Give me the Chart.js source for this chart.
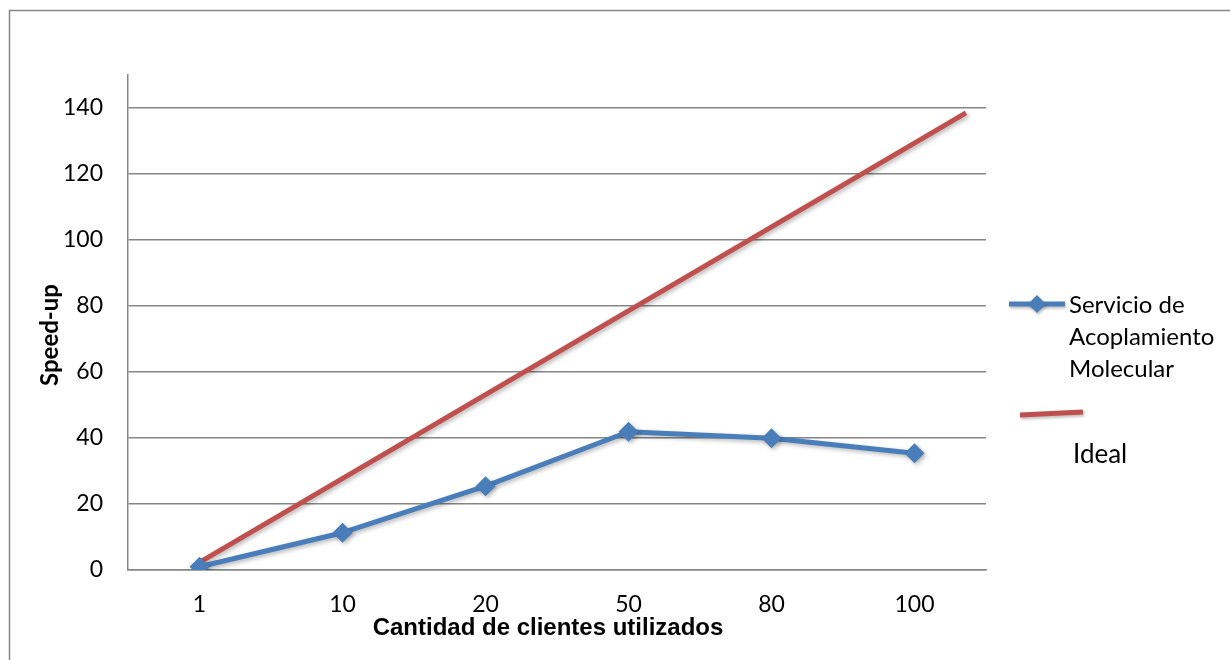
<!DOCTYPE html>
<html><head><meta charset="utf-8">
<script src="https://cdn.jsdelivr.net/npm/chart.js@4.4.0/dist/chart.umd.min.js"></script>
<style>html,body{margin:0;padding:0;background:#fff}canvas{display:block}</style>
</head><body>
<canvas id="c" width="1230" height="660"></canvas>
<script>
// Speed-up measured per number of clients
const clientes = ['1', '10', '20', '50', '80', '100'];
const speedUp = [1.0, 11.3, 25.4, 41.9, 39.9, 35.4];
// Reference "ideal" trend line (position along the client axis, speed-up)
const idealPos = [0, 5.36];
const idealSpeedUp = [2.3, 138.5];
const yTicks = [0, 20, 40, 60, 80, 100, 120, 140];
const serieNombre = ['Servicio de', 'Acoplamiento', 'Molecular'];
const idealNombre = 'Ideal';
const tituloX = 'Cantidad de clientes utilizados';
const tituloY = 'Speed-up';

const AZUL = '#4a7ebb';
const ROJO = '#c0504d';
const GRIS = '#868686';

const sombra = {
  id: 'sombra',
  beforeDatasetDraw(chart) {
    const ctx = chart.ctx;
    ctx.save();
    ctx.shadowColor = 'rgba(0,0,0,0.28)';
    ctx.shadowBlur = 4;
    ctx.shadowOffsetX = 2;
    ctx.shadowOffsetY = 2;
  },
  afterDatasetDraw(chart) { chart.ctx.restore(); }
};

const marco = {
  id: 'marco',
  beforeDraw(chart) {
    const ctx = chart.ctx;
    ctx.save();
    ctx.fillStyle = '#fff';
    ctx.fillRect(0, 0, chart.width, chart.height);
    ctx.strokeStyle = GRIS;
    ctx.lineWidth = 1.5;
    ctx.beginPath();
    ctx.moveTo(9.5, chart.height);
    ctx.lineTo(9.5, 10.5);
    ctx.lineTo(chart.width, 10.5);
    ctx.stroke();
    ctx.restore();
  },
  afterDraw(chart) {
    const ctx = chart.ctx;
    ctx.save();
    // axis titles
    ctx.fillStyle = '#000';
    ctx.font = 'bold 24px "Liberation Sans", Arial, sans-serif';
    ctx.textAlign = 'center';
    ctx.textBaseline = 'alphabetic';
    ctx.fillText(tituloX, 548, 635);
    ctx.save();
    ctx.translate(58, 335);
    ctx.rotate(-Math.PI / 2);
    ctx.font = 'bold 24px Lato, sans-serif';
    ctx.fillText(tituloY, 0, 0);
    ctx.restore();

    // legend: measured series
    ctx.save();
    ctx.shadowColor = 'rgba(0,0,0,0.25)';
    ctx.shadowBlur = 3; ctx.shadowOffsetX = 1; ctx.shadowOffsetY = 2;
    ctx.strokeStyle = AZUL;
    ctx.lineWidth = 5;
    ctx.beginPath();
    ctx.moveTo(1009, 304); ctx.lineTo(1065, 304);
    ctx.stroke();
    ctx.fillStyle = AZUL;
    ctx.beginPath();
    ctx.moveTo(1037, 295); ctx.lineTo(1046, 304); ctx.lineTo(1037, 313); ctx.lineTo(1028, 304);
    ctx.closePath(); ctx.fill();
    // legend: ideal line
    ctx.strokeStyle = ROJO;
    ctx.beginPath();
    ctx.moveTo(1020, 415); ctx.lineTo(1083, 412);
    ctx.stroke();
    ctx.restore();

    ctx.fillStyle = '#000';
    ctx.textAlign = 'left';
    ctx.font = '24px Lato, sans-serif';
    serieNombre.forEach((t, i) => ctx.fillText(t, 1069, 313 + i * 32));
    ctx.font = '26px Lato, sans-serif';
    ctx.fillText(idealNombre, 1073, 463);
    ctx.restore();
  }
};

new Chart(document.getElementById('c'), {
  type: 'line',
  data: {
    labels: clientes,
    datasets: [
      {
        label: serieNombre.join(' '),
        data: speedUp,
        xAxisID: 'x',
        borderColor: AZUL,
        backgroundColor: AZUL,
        borderWidth: 5,
        pointStyle: 'rectRot',
        pointRadius: 10,
        pointBorderWidth: 0,
        pointBackgroundColor: AZUL,
        tension: 0,
        borderJoinStyle: 'round'
      },
      {
        label: idealNombre,
        data: idealPos.map((p, i) => ({ x: p, y: idealSpeedUp[i] })),
        xAxisID: 'x2',
        borderColor: ROJO,
        backgroundColor: ROJO,
        borderWidth: 5,
        pointRadius: 0,
        tension: 0
      }
    ]
  },
  options: {
    responsive: false,
    animation: false,
    devicePixelRatio: 1,
    layout: { padding: { left: 0, top: 75, right: 244, bottom: 0 } },
    plugins: { legend: { display: false }, tooltip: { enabled: false } },
    scales: {
      x: {
        type: 'category',
        offset: true,
        grid: { display: false, drawTicks: false },
        border: { color: GRIS, width: 1.5 },
        ticks: { color: '#000', font: { family: 'Lato', size: 23 }, padding: 21, maxRotation: 0 },
        afterFit(s) { s.height = 90; }
      },
      x2: { type: 'linear', min: -0.5, max: 5.5, display: false },
      y: {
        min: 0,
        max: 150,
        grid: { color: GRIS, lineWidth: 1.5, drawTicks: false },
        border: { color: GRIS, width: 1.5 },
        ticks: { color: '#000', font: { family: 'Lato', size: 23 }, padding: 25 },
        afterBuildTicks(s) { s.ticks = yTicks.map(v => ({ value: v })); },
        afterFit(s) { s.width = 128; }
      }
    }
  },
  plugins: [marco, sombra]
});
</script>
</body></html>
